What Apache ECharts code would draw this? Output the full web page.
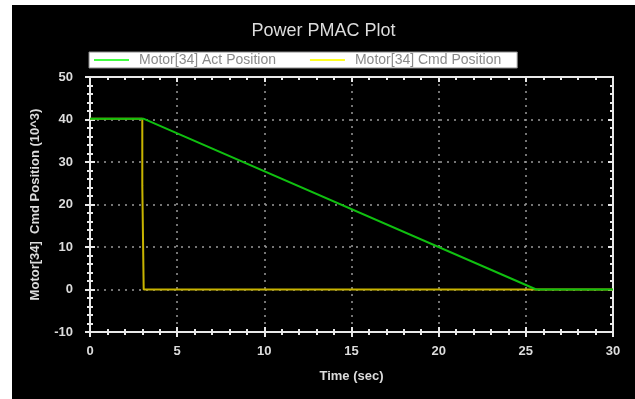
<!DOCTYPE html>
<html>
<head>
<meta charset="utf-8">
<script src="https://cdn.jsdelivr.net/npm/echarts@6/dist/echarts.min.js"></script>
<style>
  html, body { margin: 0; padding: 0; background: #fff; }
  #chart { position: absolute; left: 12px; top: 5px; width: 623px; height: 394px; background: #000; }
</style>
</head>
<body>
<div id="chart"></div>
<script>
// time (sec) and position (10^3 counts)
const actTime = [0, 3.06, 25.6, 30];
const actPos = [40.2, 40.2, 0, 0];
const cmdTime = [0, 3.0, 3.0, 3.08, 3.08, 30];
const cmdPos = [40.2, 40.2, 24.5, 24.5, 0, 0];

const actName = 'Motor[34] Act Position';
const cmdName = 'Motor[34] Cmd Position';

const pairs = (xs, ys) => xs.map((x, i) => [x, ys[i]]);

const chart = echarts.init(document.getElementById('chart'));

const tickLine = { color: '#e8e8e8', width: 2 };
const labelStyle = { color: '#dcdcdc', fontSize: 13, fontWeight: 'bold', fontFamily: 'Liberation Sans' };

// helper for the extra axes that only draw tick marks
function tickAxis(pos, inside, extra) {
  return Object.assign({
    type: 'value',
    position: pos,
    axisLine: { show: pos === 'top' || pos === 'right', onZero: false, lineStyle: tickLine },
    axisTick: { show: true, inside: inside, length: 5, lineStyle: tickLine },
    minorTick: { show: true, splitNumber: 5, length: 3, lineStyle: { color: '#e8e8e8', width: 2 } },
    axisLabel: { show: false },
    splitLine: { show: false }
  }, extra);
}

const option = {
  backgroundColor: '#000',
  animation: false,
  title: {
    text: 'Power PMAC Plot',
    left: 'center',
    top: 12,
    textStyle: { color: '#dcdcdc', fontSize: 18, fontWeight: 'normal', fontFamily: 'Liberation Sans' }
  },
  legend: {
    data: [
      { name: actName, itemStyle: { color: '#44ff44' } },
      { name: cmdName, itemStyle: { color: '#ffff22' } }
    ],
    icon: 'rect',
    left: 77,
    top: 47,
    backgroundColor: '#fff',
    borderColor: '#888',
    borderWidth: 1,
    padding: [1, 16, 1, 5],
    itemWidth: 35,
    itemHeight: 2,
    itemGap: 34,
    textStyle: { color: '#8a8a8a', fontSize: 14, fontFamily: 'Liberation Sans', padding: [0, 0, 0, 5] }
  },
  grid: { left: 78, right: 22, top: 72, bottom: 67 },
  xAxis: [
    {
      type: 'value',
      min: 0,
      max: 30,
      interval: 5,
      position: 'bottom',
      name: 'Time (sec)',
      nameLocation: 'middle',
      nameGap: 38,
      nameTextStyle: labelStyle,
      axisLine: { show: true, onZero: false, lineStyle: tickLine },
      axisTick: { show: true, length: 5, lineStyle: tickLine },
      minorTick: { show: true, splitNumber: 5, length: 3, lineStyle: { color: '#e8e8e8', width: 2 } },
      axisLabel: Object.assign({ margin: 13 }, labelStyle),
      splitLine: { show: true, lineStyle: { color: '#9a9a9a', width: 1.5, type: [2, 5] } }
    },
    tickAxis('bottom', true, { min: 0, max: 30, interval: 5 }),
    tickAxis('top', true, { min: 0, max: 30, interval: 5 })
  ],
  yAxis: [
    {
      type: 'value',
      min: -10,
      max: 50,
      interval: 10,
      position: 'left',
      name: 'Motor[34]  Cmd Position (10^3)',
      nameLocation: 'middle',
      nameGap: 48,
      nameTextStyle: labelStyle,
      axisLine: { show: true, onZero: false, lineStyle: tickLine },
      axisTick: { show: true, length: 5, lineStyle: tickLine },
      minorTick: { show: true, splitNumber: 5, length: 3, lineStyle: { color: '#e8e8e8', width: 2 } },
      axisLabel: Object.assign({ margin: 17 }, labelStyle),
      splitLine: { show: true, lineStyle: { color: '#9a9a9a', width: 1.5, type: [2, 5] } }
    },
    tickAxis('left', true, { min: -10, max: 50, interval: 10 }),
    tickAxis('right', true, { min: -10, max: 50, interval: 10 })
  ],
  series: [
    {
      name: cmdName,
      type: 'line',
      symbol: 'none',
      data: pairs(cmdTime, cmdPos),
      lineStyle: { color: '#c8b400', width: 2 },
      itemStyle: { color: '#c8b400' },
      z: 3
    },
    {
      name: actName,
      type: 'line',
      symbol: 'none',
      data: pairs(actTime, actPos),
      lineStyle: { color: '#10c010', width: 2 },
      itemStyle: { color: '#10c010' },
      z: 4
    }
  ]
};

chart.setOption(option);
</script>
</body>
</html>
